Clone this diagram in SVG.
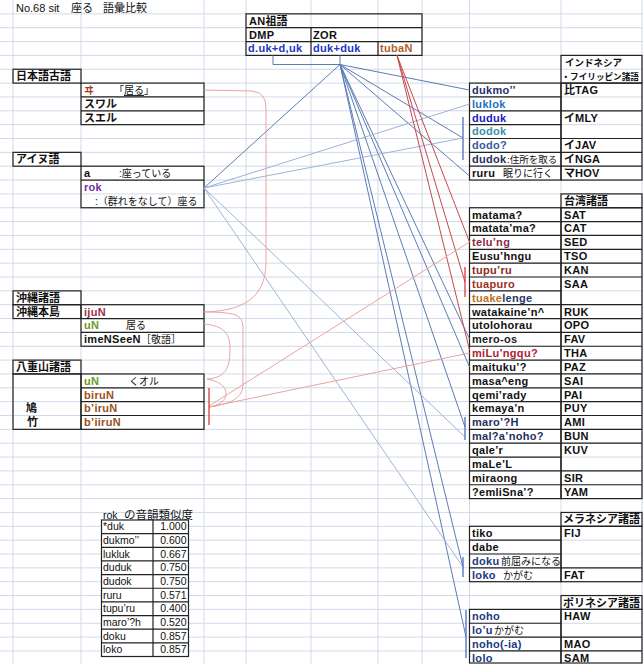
<svg xmlns="http://www.w3.org/2000/svg" width="643" height="664" viewBox="0 0 643 664">
<style>
.grid{stroke:#d3d9e7;stroke-width:1;fill:none}
.bx{fill:none;stroke:#222;stroke-width:1.2}
.ln{stroke:#222;stroke-width:1.2}
.t{font-family:"Liberation Sans","Noto Sans CJK JP",sans-serif;font-size:11px;font-weight:bold;letter-spacing:0.3px;fill:#111}
.j{font-family:"Liberation Sans","Noto Sans CJK JP",sans-serif;font-size:10px;fill:#111}
.h{font-family:"Liberation Sans","Noto Sans CJK JP",sans-serif;font-size:11px;font-weight:bold;fill:#111}
.s{font-family:"Liberation Sans","Noto Sans CJK JP",sans-serif;font-size:10.5px;fill:#111}
.cb{stroke:#5a7db5;stroke-width:1;fill:none}
.cl{stroke:#9db3da;stroke-width:1;fill:none}
.br{stroke:#4a70c0;stroke-width:1.3;fill:none}
.cr{stroke:#c44a4a;stroke-width:1;fill:none}
.brr{stroke:#d83a3a;stroke-width:1.3;fill:none}
.cp{stroke:#e8a4a4;stroke-width:1;fill:none}
</style>
<rect width="643" height="664" fill="#fff"/>
<g id="grid">
<path class="grid" d="M13,0V664M81,0V664M204,0V664M246,0V664M311,0V664M378,0V664M422,0V664M469.5,0V664M561,0V664M642,0V664"/>
<path class="grid" d="M0,13.85H643M0,27.7H643M0,41.55H643M0,55.4H643M0,69.25H643M0,83.1H643M0,96.95H643M0,110.8H643M0,124.65H643M0,138.5H643M0,152.35H643M0,166.2H643M0,180.05H643M0,193.9H643M0,207.75H643M0,221.6H643M0,235.45H643M0,249.3H643M0,263.15H643M0,277H643M0,290.85H643M0,304.7H643M0,318.55H643M0,332.4H643M0,346.25H643M0,360.1H643M0,373.95H643M0,387.8H643M0,401.65H643M0,415.5H643M0,429.35H643M0,443.2H643M0,457.05H643M0,470.9H643M0,484.75H643M0,498.6H643M0,512.45H643M0,526.3H643M0,540.15H643M0,554H643M0,567.85H643M0,581.7H643M0,595.55H643M0,609.4H643M0,623.25H643M0,637.1H643M0,650.95H643"/>
</g>
<g id="title">
<text x="16" y="11.5" class="s" style="font-size:11px">No.68  sit</text>
<text x="71" y="11.5" class="j" style="font-size:11px">座る</text>
<text x="103" y="11.5" class="j" style="font-size:11px">語彙比較</text>
</g>
<g id="an-proto">
<rect class="bx" x="246" y="13.85" width="176" height="41.55"/>
<path class="ln" d="M246,27.7H422M246,41.55H422M311,27.7V55.4M378,41.55V55.4"/>
<text x="249" y="24.65" class="t">AN<tspan class="h" style="letter-spacing:0">祖語</tspan></text>
<text x="249" y="38.5" class="t">DMP</text>
<text x="313" y="38.5" class="t">ZOR</text>
<text x="248" y="52.35" class="t" style="fill:#2233cc">d.uk+d,uk</text>
<text x="313" y="52.35" class="t" style="fill:#2233cc">duk+duk</text>
<text x="380" y="52.35" class="t" style="fill:#b0602a">tubaN</text>
</g>
<g id="jp-old">
<rect class="bx" x="13" y="69.25" width="68" height="13.85"/>
<text x="16" y="80.2" class="h">日本語古語</text>
<rect class="bx" x="81" y="83.1" width="123" height="41.55"/>
<path class="ln" d="M81,96.95H204M81,110.8H204"/>
<text x="84" y="93.9" class="j" style="fill:#a03a2a;font-weight:bold">ヰ</text>
<text x="114" y="93.9" class="j">「<tspan text-decoration="underline">居る</tspan>」</text>
<text x="84" y="107.75" class="h">スワル</text>
<text x="84" y="121.6" class="h">スエル</text>
</g>
<g id="ainu">
<rect class="bx" x="13" y="152.35" width="68" height="13.85"/>
<text x="16" y="163.3" class="h">アイヌ語</text>
<rect class="bx" x="81" y="166.2" width="123" height="41.55"/>
<path class="ln" d="M81,180.05H204"/>
<text x="84" y="177" class="t">a</text>
<text x="119" y="177" class="j">:座っている</text>
<text x="84" y="190.85" class="t" style="fill:#7030a0">rok</text>
<text x="95" y="204.7" class="j">:（群れをなして）座る</text>
</g>
<g id="okinawa">
<rect class="bx" x="13" y="290.85" width="68" height="13.85"/>
<text x="16" y="301.8" class="h">沖縄諸語</text>
<rect class="bx" x="13" y="304.7" width="68" height="13.85"/>
<text x="16" y="315.6" class="h">沖縄本島</text>
<rect class="bx" x="81" y="304.7" width="123" height="41.55"/>
<path class="ln" d="M81,318.55H204M81,332.4H204"/>
<text x="84" y="315.5" class="t" style="fill:#993344">ijuN</text>
<text x="84" y="329.35" class="t" style="fill:#6b9b20">uN</text>
<text x="126" y="329.35" class="j">居る</text>
<text x="84" y="343.2" class="t">imeNSeeN</text>
<text x="141" y="343.2" class="j">［敬語］</text>
</g>
<g id="yaeyama">
<rect class="bx" x="13" y="360.1" width="68" height="13.85"/>
<text x="16" y="371" class="h">八重山諸語</text>
<rect class="bx" x="13" y="373.95" width="68" height="55.4"/>
<text x="26" y="412.4" class="h">鳩</text>
<text x="27" y="426.2" class="h">竹</text>
<rect class="bx" x="81" y="373.95" width="123" height="55.4"/>
<path class="ln" d="M81,387.8H204M81,401.65H204M81,415.5H204"/>
<text x="84" y="384.75" class="t" style="fill:#6b9b20">uN</text>
<text x="129" y="384.75" class="j">くオル</text>
<text x="84" y="398.6" class="t" style="fill:#9a5020">biruN</text>
<text x="84" y="412.45" class="t" style="fill:#9a5020">b’iruN</text>
<text x="84" y="426.3" class="t" style="fill:#9a5020">b’iiruN</text>
</g>
<g id="indo-phil">
<rect class="bx" x="561" y="55.4" width="81" height="27.7"/>
<text x="565" y="66" class="j" style="font-size:9.5px;font-weight:bold">インドネシア</text>
<text x="561.5" y="80" class="j" style="font-size:8.6px;font-weight:bold">・フイリッピン諸語</text>
<rect class="bx" x="469.5" y="83.1" width="91.5" height="96.95"/>
<path class="ln" d="M469.5,96.95H561M469.5,110.8H561M469.5,124.65H561M469.5,138.5H561M469.5,152.35H561M469.5,166.2H561"/>
<rect class="bx" x="561" y="83.1" width="81" height="96.95"/>
<path class="ln" d="M561,110.8H642M561,138.5H642M561,152.35H642M561,166.2H642"/>
<text x="472" y="93.9" class="t" style="fill:#1f3070">dukmo’’</text>
<text x="472" y="107.75" class="t" style="fill:#1f6fc0">luklok</text>
<text x="472" y="121.6" class="t" style="fill:#1818c0">duduk</text>
<text x="472" y="135.45" class="t" style="fill:#3b8fa8">dodok</text>
<text x="472" y="149.3" class="t" style="fill:#3a5a9a">dodo?</text>
<text x="472" y="163.15" class="t" style="fill:#1f3060">dudok</text>
<text x="507" y="163.15" class="j" style="font-size:9.5px">:住所を取る</text>
<text x="472" y="177" class="t">ruru</text>
<text x="503" y="177" class="j">眠りに行く</text>
<text x="564" y="93.9" class="t"><tspan class="h" style="letter-spacing:0">比</tspan>TAG</text>
<text x="564" y="121.6" class="t"><tspan class="h" style="letter-spacing:0">イ</tspan>MLY</text>
<text x="564" y="149.3" class="t"><tspan class="h" style="letter-spacing:0">イ</tspan>JAV</text>
<text x="564" y="163.15" class="t"><tspan class="h" style="letter-spacing:0">イ</tspan>NGA</text>
<text x="564" y="177" class="t"><tspan class="h" style="letter-spacing:0">マ</tspan>HOV</text>
</g>
<g id="taiwan">
<rect class="bx" x="561" y="193.9" width="81" height="13.85"/>
<text x="564" y="204.8" class="h">台湾諸語</text>
<rect class="bx" x="469.5" y="207.75" width="91.5" height="290.85"/>
<path class="ln" d="M469.5,221.6H561M469.5,235.45H561M469.5,249.3H561M469.5,263.15H561M469.5,277H561M469.5,290.85H561M469.5,304.7H561M469.5,318.55H561M469.5,332.4H561M469.5,346.25H561M469.5,360.1H561M469.5,373.95H561M469.5,387.8H561M469.5,401.65H561M469.5,415.5H561M469.5,429.35H561M469.5,443.2H561M469.5,457.05H561M469.5,470.9H561M469.5,484.75H561"/>
<rect class="bx" x="561" y="207.75" width="81" height="290.85"/>
<path class="ln" d="M561,221.6H642M561,235.45H642M561,249.3H642M561,263.15H642M561,277H642M561,304.7H642M561,318.55H642M561,332.4H642M561,346.25H642M561,360.1H642M561,373.95H642M561,387.8H642M561,401.65H642M561,415.5H642M561,429.35H642M561,443.2H642M561,470.9H642M561,484.75H642"/>
<text x="472" y="218.55" class="t">matama?</text>
<text x="472" y="232.4" class="t">matata’ma?</text>
<text x="472" y="246.25" class="t" style="fill:#8a2a48">telu’ng</text>
<text x="472" y="260.1" class="t">Eusu’hngu</text>
<text x="472" y="273.95" class="t" style="fill:#8a2a20">tupu’ru</text>
<text x="472" y="287.8" class="t" style="fill:#a03020">tuapuro</text>
<text x="472" y="301.65" class="t"><tspan style="fill:#c0701e">tuake</tspan><tspan style="fill:#1f3864">lenge</tspan></text>
<text x="472" y="315.5" class="t">watakaine’n^</text>
<text x="472" y="329.35" class="t">utolohorau</text>
<text x="472" y="343.2" class="t" style="fill:#222">mero-os</text>
<text x="472" y="357.05" class="t" style="fill:#b02030">miLu’ngqu?</text>
<text x="472" y="370.9" class="t">maituku’?</text>
<text x="472" y="384.75" class="t">masa^eng</text>
<text x="472" y="398.6" class="t">qemi’rady</text>
<text x="472" y="412.45" class="t">kemaya’n</text>
<text x="472" y="426.3" class="t" style="fill:#1f3060">maro’?H</text>
<text x="472" y="440.15" class="t" style="fill:#1f3060">mal?a’noho?</text>
<text x="472" y="454" class="t">qale’r</text>
<text x="472" y="467.85" class="t">maLe’L</text>
<text x="472" y="481.7" class="t">miraong</text>
<text x="472" y="495.55" class="t">?emliSna’?</text>
<text x="564" y="218.55" class="t">SAT</text>
<text x="564" y="232.4" class="t">CAT</text>
<text x="564" y="246.25" class="t">SED</text>
<text x="564" y="260.1" class="t">TSO</text>
<text x="564" y="273.95" class="t">KAN</text>
<text x="564" y="287.8" class="t">SAA</text>
<text x="564" y="315.5" class="t">RUK</text>
<text x="564" y="329.35" class="t">OPO</text>
<text x="564" y="343.2" class="t">FAV</text>
<text x="564" y="357.05" class="t">THA</text>
<text x="564" y="370.9" class="t">PAZ</text>
<text x="564" y="384.75" class="t">SAI</text>
<text x="564" y="398.6" class="t">PAI</text>
<text x="564" y="412.45" class="t">PUY</text>
<text x="564" y="426.3" class="t">AMI</text>
<text x="564" y="440.15" class="t">BUN</text>
<text x="564" y="454" class="t">KUV</text>
<text x="564" y="481.7" class="t">SIR</text>
<text x="564" y="495.55" class="t">YAM</text>
</g>
<g id="melanesia">
<rect class="bx" x="561" y="512.45" width="81" height="13.85"/>
<text x="563" y="523.4" class="h">メラネシア諸語</text>
<rect class="bx" x="469.5" y="526.3" width="91.5" height="55.4"/>
<path class="ln" d="M469.5,540.15H561M469.5,554H561M469.5,567.85H561"/>
<rect class="bx" x="561" y="526.3" width="81" height="55.4"/>
<path class="ln" d="M561,567.85H642"/>
<text x="472" y="537.1" class="t">tiko</text>
<text x="472" y="550.95" class="t">dabe</text>
<text x="472" y="564.8" class="t" style="fill:#203a80">doku</text>
<text x="501" y="564.8" class="j">前屈みになる</text>
<text x="472" y="578.65" class="t" style="fill:#203a80">loko</text>
<text x="503" y="578.65" class="j">かがむ</text>
<text x="564" y="537.1" class="t">FIJ</text>
<text x="564" y="578.65" class="t">FAT</text>
</g>
<g id="polynesia">
<rect class="bx" x="561" y="595.55" width="81" height="13.85"/>
<text x="563" y="606.5" class="h">ポリネシア諸語</text>
<rect class="bx" x="469.5" y="609.4" width="91.5" height="53.6"/>
<path class="ln" d="M469.5,623.25H561M469.5,637.1H561M469.5,650.95H561"/>
<rect class="bx" x="561" y="609.4" width="81" height="53.6"/>
<path class="ln" d="M561,637.1H642M561,650.95H642"/>
<text x="472" y="620.2" class="t" style="fill:#203a80">noho</text>
<text x="472" y="634.05" class="t" style="fill:#203a80">lo’u</text>
<text x="494" y="634.05" class="j">かがむ</text>
<text x="472" y="647.9" class="t" style="fill:#203a80">noho(-ia)</text>
<text x="472" y="661.5" class="t" style="fill:#203a80">lolo</text>
<text x="564" y="620.2" class="t">HAW</text>
<text x="564" y="647.9" class="t">MAO</text>
<text x="564" y="661.5" class="t">SAM</text>
</g>
<g id="similarity">
<text x="103" y="518.5" class="s">rok</text>
<text x="124" y="518.5" class="j" style="font-size:11.5px">の音韻類似度</text>
<rect x="101.5" y="520" width="87" height="136.5" fill="#fff" stroke="#222" stroke-width="1.2"/>
<path class="ln" d="M153,520V656.5M101.5,533.65H188.5M101.5,547.3H188.5M101.5,560.95H188.5M101.5,574.6H188.5M101.5,588.25H188.5M101.5,601.9H188.5M101.5,615.55H188.5M101.5,629.2H188.5M101.5,642.85H188.5"/>
<g class="s">
<text x="103" y="530.3">*duk</text>
<text x="103" y="543.95">dukmo’’</text>
<text x="103" y="557.6">lukluk</text>
<text x="103" y="571.25">duduk</text>
<text x="103" y="584.9">dudok</text>
<text x="103" y="598.55">ruru</text>
<text x="103" y="612.2">tupu’ru</text>
<text x="103" y="625.85">maro’?h</text>
<text x="103" y="639.5">doku</text>
<text x="103" y="653.15">loko</text>
</g>
<g class="s" text-anchor="end">
<text x="186.5" y="530.3">1.000</text>
<text x="186.5" y="543.95">0.600</text>
<text x="186.5" y="557.6">0.667</text>
<text x="186.5" y="571.25">0.750</text>
<text x="186.5" y="584.9">0.750</text>
<text x="186.5" y="598.55">0.571</text>
<text x="186.5" y="612.2">0.400</text>
<text x="186.5" y="625.85">0.520</text>
<text x="186.5" y="639.5">0.857</text>
<text x="186.5" y="653.15">0.857</text>
</g>
</g>
<g id="connectors">
<path class="cb" d="M273,55.4V64.5H340M340,55.4V64.5"/>
<path class="cb" d="M340,64.5L469.5,90M340,64.5L463,138M340,64.5L469.5,176M340,64.5L204,188M340,64.5L465,427M340,64.5L469.5,367M340,64.5L469.5,339M340,64.5L463,567M340,64.5L466,637"/>
<path class="cl" d="M204,188L469.5,104M204,188L463,138M204,188L465,437M204,188L463,567"/>
<path class="br" d="M463,117V160M465,417V440M463,557V577M466,610V658"/>
<path class="cr" d="M397,55.4L469.5,242M397,55.4L465,282M397,55.4L469.5,350"/>
<path class="brr" d="M465,267V297"/>
<path class="cp" d="M204,90L252,91Q266,92 266,108L266,262C266,300 240,311 204,312"/>
<path class="cp" d="M204,312C240,312 243,316 243,330L243,385C243,400 225,405 209,407"/>
<path class="cp" d="M204,324C226,326 230,335 230,350C230,372 222,378 207,379"/>
<path class="cp" d="M207,379C225,382 228,392 225,398C222,404 214,406 209,407"/>
<path class="cp" d="M209,406L469.5,242M209,407L469.5,353"/>
<path class="brr" d="M209,388V425"/>
</g>
</svg>
